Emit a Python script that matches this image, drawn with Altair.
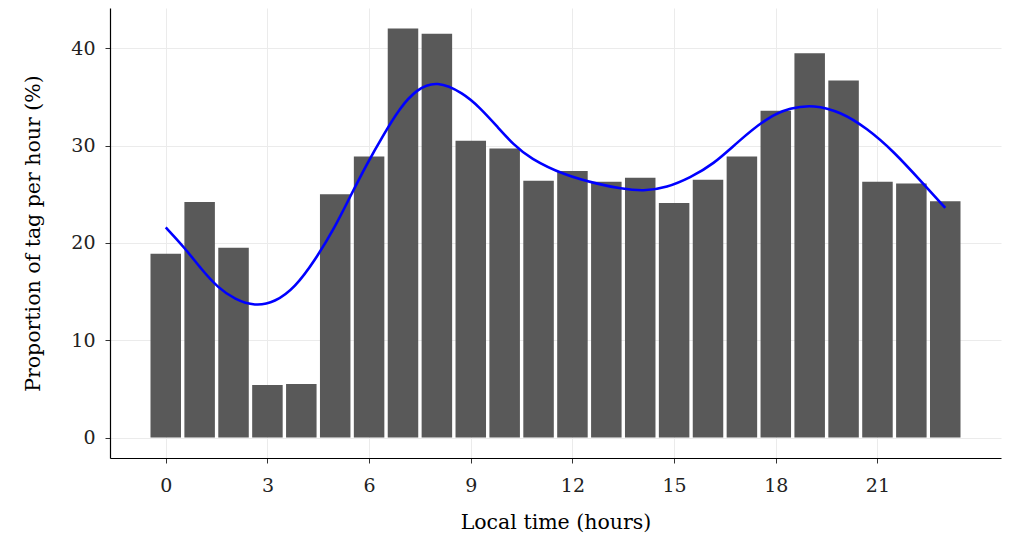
import altair as alt
import pandas as pd

hours = list(range(24))
proportion = [18.9, 24.2, 19.5, 5.4, 5.5, 25.0, 28.9, 42.05, 41.5, 30.5, 29.7, 26.4,
              27.4, 26.3, 26.7, 24.1, 26.5, 28.9, 33.6, 39.5, 36.7, 26.3, 26.1, 24.3]

curve_x = [0, 0.56, 1.05, 1.54, 2.04, 2.63, 3.22, 3.81, 4.4, 4.99, 5.43, 5.93, 6.42,
           6.91, 7.4, 8.0, 8.78, 9.27, 9.77, 10.26, 10.75, 11.73, 12.82, 13.4, 14.1,
           14.79, 15.47, 16.16, 16.85, 17.74, 18.43, 19.12, 19.9, 20.69, 21.48, 22.27, 23.0]
curve_y = [21.6, 19.5, 17.3, 15.4, 14.2, 13.5, 13.9, 15.4, 18.2, 21.6, 24.7, 28.1, 31.1,
           33.9, 35.8, 36.7, 35.4, 33.9, 32.0, 30.1, 28.7, 27.0, 26.0, 25.6, 25.3,
           25.7, 26.7, 28.1, 30.3, 32.9, 33.9, 34.2, 33.5, 31.8, 29.4, 26.4, 23.6]

x_ticks = [0, 3, 6, 9, 12, 15, 18, 21]
y_ticks = [0, 10, 20, 30, 40]

bars = pd.DataFrame({"hour": hours, "prop": proportion})
bars["x0"] = bars["hour"] - 0.45
bars["x1"] = bars["hour"] + 0.45
curve = pd.DataFrame({"hour": curve_x, "prop": curve_y})

FONT = "DejaVu Serif"

xscale = alt.Scale(domain=[-1.645, 24.645], nice=False, zero=False)
yscale = alt.Scale(domain=[-2.1, 44.15], nice=False, zero=False)

xaxis = alt.Axis(values=x_ticks, title="Local time (hours)", grid=True,
                 gridColor="#ebebeb", domainColor="black", domainWidth=1.2,
                 tickColor="#333333", tickSize=5, labelFontSize=19, labelFont=FONT,
                 labelColor="#222222", labelPadding=13, titleFont=FONT,
                 titleFontSize=20.5, titleFontWeight="normal", titleColor="black",
                 titlePadding=17)
yaxis = alt.Axis(values=y_ticks, title="Proportion of tag per hour (%)", grid=True,
                 gridColor="#ebebeb", domainColor="black", domainWidth=1.2,
                 tickColor="#333333", tickSize=5, labelFontSize=19, labelFont=FONT,
                 labelColor="#222222", labelPadding=10, titleFont=FONT,
                 titleFontSize=20.5, titleFontWeight="normal", titleColor="black",
                 titlePadding=27)

bar_layer = alt.Chart(bars).mark_rect(color="#595959").encode(
    x=alt.X("x0:Q", scale=xscale, axis=xaxis),
    x2="x1:Q",
    y=alt.Y("prop:Q", scale=yscale, axis=yaxis),
    y2=alt.datum(0),
)

line_layer = alt.Chart(curve).mark_line(color="#0000ff", strokeWidth=2.6,
                                        interpolate="basis").encode(
    x=alt.X("hour:Q", scale=xscale),
    y=alt.Y("prop:Q", scale=yscale),
)

chart = alt.layer(bar_layer, line_layer).properties(
    width=891, height=450,
    autosize=alt.AutoSizeParams(type="none"),
    padding={"left": 102, "top": 0, "right": 2, "bottom": 77},
    background="white",
).configure_view(stroke=None)

chart.save("out.html", embed_options={"renderer": "svg", "actions": False})
